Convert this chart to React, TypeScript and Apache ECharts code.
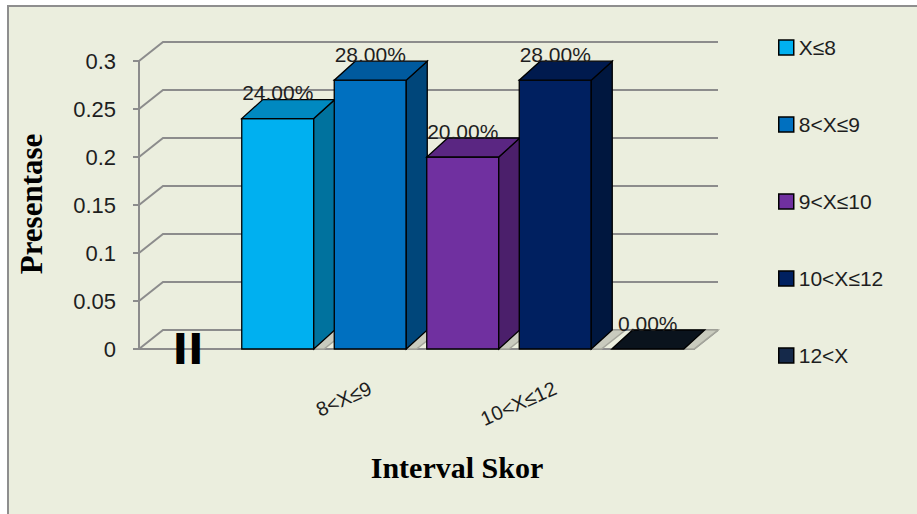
import React, { useEffect, useRef } from "react";
import * as echarts from "echarts";

const seriesNames = ["X≤8", "8<X≤9", "9<X≤10", "10<X≤12", "12<X"];
const seriesValues = [0.24, 0.28, 0.2, 0.28, 0.0];
const categories = ["", "X≤8", "8<X≤9", "9<X≤10", "10<X≤12", "12<X"];
const shownCategoryIdx = [2, 4];
const yTicks = [0, 0.05, 0.1, 0.15, 0.2, 0.25, 0.3];
const yTitle = "Presentase";
const xTitle = "Interval Skor";
const oddLabel = "II";

const legendColors = ["#00B0F0", "#0070C0", "#7030A0", "#002060", "#15294A"];
const frontColors = ["#00B0F0", "#0070C0", "#7030A0", "#002060", "#0A131D"];
const sideColors = ["#00729E", "#00467A", "#4B1F6B", "#00173F", "#0A131D"];
const topColors = ["#0089C0", "#005A9E", "#5A2682", "#001A4E", "#0A131D"];

const BG = "#EBEEDE";
const GRID_C = "#8C8C8C";
const DX = 21;
const DY = 19;
const FDX = 24;
const FDY = 19;
const HALF = 36;

export default function App() {
  const ref = useRef<HTMLDivElement>(null);
  useEffect(() => {
    if (!ref.current) return;
    const chart = echarts.init(ref.current, null, { renderer: "svg" });

    const gridSeries: any = {
      type: "custom",
      name: "__grid",
      coordinateSystem: "cartesian2d",
      silent: true,
      clip: false,
      z: 1,
      data: yTicks.map((t) => [0, t]),
      renderItem: (params: any, api: any) => {
        const cs = params.coordSys;
        const y = api.coord([0, api.value(1)])[1];
        const x0 = cs.x;
        const x1 = cs.x + cs.width;
        return {
          type: "polyline",
          shape: {
            points: [
              [x0, y],
              [x0 + FDX, y - FDY],
              [x1 + FDX, y - FDY],
            ],
          },
          style: { stroke: GRID_C, lineWidth: 2, fill: null },
        };
      },
    };

    const floorSeries: any = {
      type: "custom",
      name: "__floor",
      coordinateSystem: "cartesian2d",
      silent: true,
      clip: false,
      z: 1,
      data: [[0, 0]],
      renderItem: (params: any, api: any) => {
        const cs = params.coordSys;
        const y = api.coord([0, 0])[1];
        const x1 = cs.x + cs.width;
        return {
          type: "polyline",
          shape: {
            points: [
              [x1, y],
              [x1 + FDX, y - FDY],
            ],
          },
          style: { stroke: GRID_C, lineWidth: 2, fill: null },
        };
      },
    };

    const barSeries: any[] = seriesNames.map((name, i) => ({
      type: "custom",
      name,
      coordinateSystem: "cartesian2d",
      clip: false,
      z: 3 + i,
      itemStyle: { color: legendColors[i] },
      data: [[i + 1, seriesValues[i]]],
      renderItem: (params: any, api: any) => {
        const xi = api.value(0);
        const v = api.value(1);
        const top = api.coord([xi, v]);
        const base = api.coord([xi, 0]);
        const band = api.size([1, 0])[0];
        const cx = base[0];
        const L = cx - HALF;
        const R = cx + HALF;
        const yT = top[1];
        const yB = base[1];
        const br = cx + band / 2;
        const children: any[] = [
          {
            type: "polygon",
            shape: {
              points: [
                [L, yB],
                [br, yB],
                [br + FDX, yB - FDY],
                [L + DX, yB - FDY],
              ],
            },
            style: { fill: "#C9CBBE", stroke: "#A5A69C", lineWidth: 1.5 },
          },
        ];
        if (v > 0) {
          children.push({
            type: "polygon",
            shape: { points: [[L, yB], [R, yB], [R, yT], [L, yT]] },
            style: { fill: frontColors[i], stroke: "#000", lineWidth: 1.3 },
          });
          children.push({
            type: "polygon",
            shape: {
              points: [[R, yB], [R + DX, yB - DY], [R + DX, yT - DY], [R, yT]],
            },
            style: { fill: sideColors[i], stroke: "#000", lineWidth: 1.3 },
          });
        }
        children.push({
          type: "polygon",
          shape: {
            points: [[L, yT], [R, yT], [R + DX, yT - DY], [L + DX, yT - DY]],
          },
          style: { fill: topColors[i], stroke: "#000", lineWidth: 1.3 },
        });
        children.push({
          type: "text",
          z2: 10,
          style: {
            x: cx,
            y: yT - 26,
            text: (v * 100).toFixed(2) + "%",
            fill: "#1E1E1E",
            font: '21px "Liberation Sans", Arial, sans-serif',
            align: "center",
            verticalAlign: "middle",
          },
        });
        return { type: "group", children };
      },
    }));

    chart.setOption({
      animation: false,
      backgroundColor: "#FFFFFF",
      graphic: [
        {
          type: "rect",
          z: -10,
          silent: true,
          shape: { x: 8, y: 6, width: 930, height: 530 },
          style: { fill: BG, stroke: "#8E8E8E", lineWidth: 2 },
        },
        {
          type: "text",
          z: 5,
          x: 31,
          y: 204,
          rotation: Math.PI / 2,
          style: {
            text: yTitle,
            font: 'bold 31px "Liberation Serif", "Times New Roman", serif',
            fill: "#000",
            align: "center",
            verticalAlign: "middle",
          },
        },
        {
          type: "text",
          z: 5,
          x: 457,
          y: 467,
          style: {
            text: xTitle,
            font: 'bold 30px "Liberation Serif", "Times New Roman", serif',
            fill: "#000",
            align: "center",
            verticalAlign: "middle",
          },
        },
        {
          type: "text",
          z: 5,
          x: 188,
          y: 349,
          style: {
            text: oddLabel,
            font: 'bold 42px "DejaVu Sans", sans-serif',
            fill: "#000",
            align: "center",
            verticalAlign: "middle",
          },
        },
      ],
      legend: {
        orient: "vertical",
        left: 773,
        top: 32,
        icon: "rect",
        itemWidth: 15,
        itemHeight: 15,
        itemGap: 56,
        data: seriesNames,
        itemStyle: { borderColor: "#000", borderWidth: 1.5 },
        textStyle: {
          fontFamily: '"Liberation Sans", Arial, sans-serif',
          fontSize: 21,
          color: "#1E1E1E",
          lineHeight: 15,
        },
      },
      grid: { left: 139, right: 223, top: 61, bottom: 165, containLabel: false },
      xAxis: {
        type: "category",
        data: categories,
        boundaryGap: true,
        axisLine: { show: true, lineStyle: { color: GRID_C, width: 2 } },
        axisTick: { show: false },
        splitLine: { show: false },
        axisLabel: {
          interval: (idx: number) => shownCategoryIdx.indexOf(idx) >= 0,
          rotate: 24,
          margin: 38,
          fontFamily: '"Liberation Sans", Arial, sans-serif',
          fontSize: 20,
          color: "#1E1E1E",
        },
      },
      yAxis: {
        type: "value",
        min: 0,
        max: 0.3,
        interval: 0.05,
        axisLine: { show: true, lineStyle: { color: GRID_C, width: 2 } },
        axisTick: { show: true, length: 6, lineStyle: { color: GRID_C, width: 2 } },
        splitLine: { show: false },
        axisLabel: {
          margin: 23,
          fontFamily: '"Liberation Sans", Arial, sans-serif',
          fontSize: 22,
          color: "#1E1E1E",
          formatter: (v: number) => {
            const t = yTicks.find((k) => Math.abs(k - v) < 1e-9);
            return String(t !== undefined ? t : +v.toFixed(2));
          },
        },
      },
      series: [gridSeries, floorSeries, ...barSeries],
    });
    return () => chart.dispose();
  }, []);
  return (
    <div
      ref={ref}
      style={{ position: "fixed", left: 0, top: 0, width: 917, height: 514 }}
    />
  );
}
